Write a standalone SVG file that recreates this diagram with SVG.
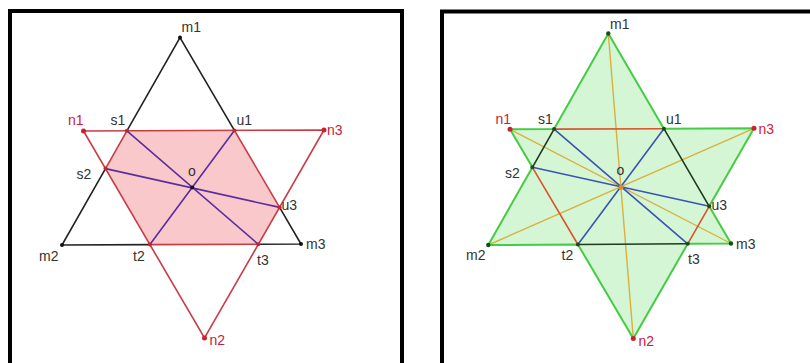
<svg xmlns="http://www.w3.org/2000/svg" width="810" height="363" viewBox="0 0 810 363">
<style>
text{font-family:"Liberation Sans",Arial,sans-serif;font-size:14px;fill:#333}
text.r{fill:#c8203c}
.frame{fill:#fff;stroke:#000;stroke-width:4}
.blk{stroke:#222;stroke-width:1.6;fill:none}
.red{stroke:#c83c46;stroke-width:1.6;fill:none}
.pur{stroke:#5b2d9e;stroke-width:1.6;fill:none}
.grn{stroke:#44cc44;stroke-width:2;fill:none}
.org{stroke:#d9542e;stroke-width:1.6;fill:none}
.dk{stroke:#1f3a1f;stroke-width:1.6;fill:none}
.blu{stroke:#3a55b0;stroke-width:1.6;fill:none}
.gld{stroke:#d9b040;stroke-width:1.4;fill:none}
.pk{fill:#f9c8ca;stroke:none}
.lg{fill:#d4f6d4;stroke:none}
.db{fill:#111}
.dr{fill:#cc2030}
.dg{fill:#1a4a1a}
.do{fill:#e08a20}
</style>
<rect class="frame" x="10" y="11" width="392" height="380"/>
<rect class="frame" x="442" y="11.5" width="400" height="380"/>

<polygon class="pk" points="126.9,130.8 234.4,130.4 279.6,207.4 258.3,244.3 149.9,244.6 105.5,168.6"/>
<polygon class="lg" points="608.3,33.5 663.9,128.7 754,128.3 709.2,206.3 731,243.5 687.7,243.8 633.3,338.5 577.9,244.5 488.3,245 532.4,167.3 510,129.3 554.1,129.1"/>

<g id="connectors">
  <g id="left-connectors">
    <path class="blk" d="M126.9,130.8 L180,37.5 L234.4,130.4"/>
    <path class="blk" d="M105.5,168.6 L62,245 L149.9,244.6"/>
    <path class="blk" d="M258.3,244.3 L301,244 L279.6,207.4"/>
    <path class="red" d="M83.5,131 L324,130 L204.5,338 Z"/>
    <path class="red" d="M126.9,130.8 L105.5,168.6 M234.4,130.4 L279.6,207.4 M149.9,244.6 L258.3,244.3"/>
    <path class="pur" d="M126.9,130.8 L258.3,244.3 M234.4,130.4 L149.9,244.6 M105.5,168.6 L279.6,207.4"/>
  </g>
  <g id="right-connectors">
    <path class="gld" d="M608.3,33.5 L633.3,338.5 M510,129.3 L731,243.5 M754,128.3 L488.3,245"/>
    <path class="blu" d="M554.1,129.1 L687.7,243.8 M663.9,128.7 L577.9,244.5 M532.4,167.3 L709.2,206.3"/>
    <path class="org" d="M554.1,129.1 L663.9,128.7 M532.4,167.3 L577.9,244.5 M709.2,206.3 L687.7,243.8"/>
    <path class="dk" d="M554.1,129.1 L532.4,167.3 M663.9,128.7 L709.2,206.3 M577.9,244.5 L687.7,243.8"/>
    <path class="grn" d="M608.3,33.5 L663.9,128.7 L754,128.3 L709.2,206.3 L731,243.5 L687.7,243.8 L633.3,338.5 L577.9,244.5 L488.3,245 L532.4,167.3 L510,129.3 L554.1,129.1 Z"/>
  </g>
</g>

<g id="L-m1"><circle class="db" cx="180" cy="37.5" r="2"/><text x="181.5" y="32">m1</text></g>
<g id="L-m2"><circle class="db" cx="62" cy="245" r="2"/><text x="39" y="260.5">m2</text></g>
<g id="L-m3"><circle class="db" cx="301" cy="244" r="2"/><text x="306" y="248.5">m3</text></g>
<g id="L-n1"><circle class="dr" cx="83.5" cy="131" r="2.5"/><text class="r" x="68" y="125">n1</text></g>
<g id="L-n2"><circle class="dr" cx="204.5" cy="338" r="2.5"/><text class="r" x="209.5" y="345">n2</text></g>
<g id="L-n3"><circle class="dr" cx="324" cy="130" r="2.5"/><text class="r" x="327" y="135">n3</text></g>
<g id="L-s1"><circle class="dr" cx="126.9" cy="130.8" r="2"/><text x="110.5" y="125">s1</text></g>
<g id="L-s2"><circle class="dr" cx="105.5" cy="168.6" r="2"/><text x="76.5" y="178.5">s2</text></g>
<g id="L-u1"><circle class="dr" cx="234.4" cy="130.4" r="2"/><text x="236.5" y="125">u1</text></g>
<g id="L-u3"><circle class="dr" cx="279.6" cy="207.4" r="2"/><text x="281.5" y="210">u3</text></g>
<g id="L-t2"><circle class="dr" cx="149.9" cy="244.6" r="2"/><text x="133" y="260.5">t2</text></g>
<g id="L-t3"><circle class="dr" cx="258.3" cy="244.3" r="2"/><text x="257" y="265">t3</text></g>
<g id="L-o"><circle class="db" cx="192.3" cy="187.5" r="2"/><text x="188" y="176">o</text></g>

<g id="R-m1"><circle class="dg" cx="608.3" cy="33.5" r="2.2"/><text x="610" y="29">m1</text></g>
<g id="R-m2"><circle class="dg" cx="488.3" cy="245" r="2.2"/><text x="466" y="260">m2</text></g>
<g id="R-m3"><circle class="dg" cx="731" cy="243.5" r="2.2"/><text x="736" y="248.5">m3</text></g>
<g id="R-n1"><circle class="dr" cx="510" cy="129.3" r="2.5"/><text class="r" x="495.5" y="123.5">n1</text></g>
<g id="R-n2"><circle class="dr" cx="633.3" cy="338.5" r="2.5"/><text class="r" x="638.5" y="345.5">n2</text></g>
<g id="R-n3"><circle class="dr" cx="754" cy="128.3" r="2.5"/><text class="r" x="758.5" y="133.5">n3</text></g>
<g id="R-s1"><circle class="dg" cx="554.1" cy="129.1" r="2"/><text x="538" y="123.5">s1</text></g>
<g id="R-s2"><circle class="dg" cx="532.4" cy="167.3" r="2"/><text x="505" y="177.5">s2</text></g>
<g id="R-u1"><circle class="dg" cx="663.9" cy="128.7" r="2"/><text x="666" y="124">u1</text></g>
<g id="R-u3"><circle class="dg" cx="709.2" cy="206.3" r="2"/><text x="711.5" y="209.5">u3</text></g>
<g id="R-t2"><circle class="dg" cx="577.9" cy="244.5" r="2"/><text x="561.5" y="260">t2</text></g>
<g id="R-t3"><circle class="dg" cx="687.7" cy="243.8" r="2"/><text x="688" y="264">t3</text></g>
<g id="R-o"><circle class="do" cx="621" cy="187.3" r="2.5"/><text x="616.5" y="175">o</text></g>
</svg>
